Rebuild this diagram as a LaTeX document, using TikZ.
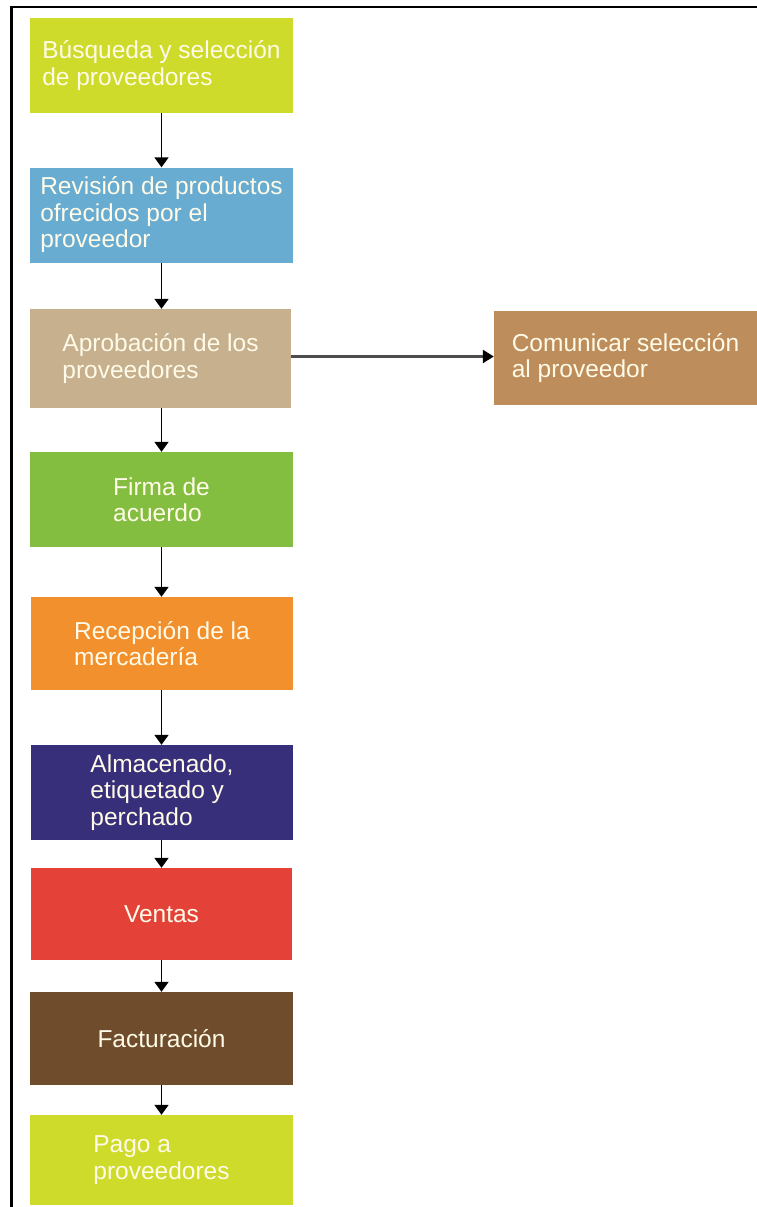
\documentclass[tikz,border=0pt]{standalone}
\usepackage{fontspec}
\setmainfont{Liberation Sans}
\usetikzlibrary{arrows.meta}

\definecolor{limeY}{RGB}{206,219,42}
\definecolor{skyB}{RGB}{104,172,210}
\definecolor{tanA}{RGB}{198,176,142}
\definecolor{tanB}{RGB}{190,141,92}
\definecolor{leafG}{RGB}{132,190,64}
\definecolor{orangeR}{RGB}{243,144,46}
\definecolor{indigoA}{RGB}{56,47,122}
\definecolor{redV}{RGB}{228,66,56}
\definecolor{brownF}{RGB}{111,76,44}
\definecolor{creamT}{RGB}{255,251,232}

\tikzset{
  stage/.style={rectangle, draw=none, minimum width=263pt, minimum height=95pt,
    inner sep=0pt, align=left, text=creamT,
    font=\fontsize{24.5pt}{26.5pt}\selectfont},
  flow/.style={draw=black, line width=1.8pt, -{Triangle[length=10pt,width=14pt]}},
  side/.style={draw=black!70, line width=2.4pt, -{Triangle[length=11pt,width=13pt,color=black]}}
}

\begin{document}
\begin{tikzpicture}[x=1pt,y=-1pt]
  \useasboundingbox (0,0) rectangle (757,1207);
  \fill[white] (0,0) rectangle (757,1207);

  % outer frame: top and left rules only
  \draw[line width=2.5pt] (11.5,1207) -- (11.5,7) -- (757,7);

  % main column of stages
  \node[stage, fill=limeY]   (b1) at (161.5,65.5)  {Búsqueda y selección\\de proveedores};
  \node[stage, fill=skyB]    (b2) at (161.5,215)   {Revisión de productos\\ofrecidos por el\\proveedor};
  \node[stage, fill=tanA, minimum width=261pt, minimum height=99pt]
                             (b3) at (160.5,358.5) {Aprobación de los\\proveedores};
  \node[stage, fill=leafG]   (b4) at (161.5,499.5) {Firma de\\acuerdo};
  \node[stage, fill=orangeR, minimum width=262pt, minimum height=93pt]
                             (b5) at (162,643.5)   {Recepción de la\\mercadería};
  \node[stage, fill=indigoA, minimum width=262pt]
                             (b6) at (162,792.5)   {Almacenado,\\etiquetado y\\perchado};
  \node[stage, fill=redV, minimum width=261pt, minimum height=92pt]
                             (b7) at (161.5,914)   {Ventas};
  \node[stage, fill=brownF, minimum height=93pt]
                             (b8) at (161.5,1038.5){Facturación};
  \node[stage, fill=limeY, minimum height=90pt]
                             (b9) at (161.5,1160)  {Pago a\\proveedores};

  % branch stage
  \node[stage, fill=tanB, minimum height=94pt]
                             (c1) at (625.5,358)   {Comunicar selección\\al proveedor};

  % connectors
  \draw[flow] (b1.south) -- (b2.north);
  \draw[flow] (b2.south) -- (b3.north -| b2.south);
  \draw[flow] (b3.south -| b2.south) -- (b4.north);
  \draw[flow] (b4.south) -- (b5.north -| b4.south);
  \draw[flow] (b5.south -| b4.south) -- (b6.north -| b4.south);
  \draw[flow] (b6.south -| b4.south) -- (b7.north -| b4.south);
  \draw[flow] (b7.south -| b4.south) -- (b8.north);
  \draw[flow] (b8.south) -- (b9.north);
  \draw[side] (b3.east) ++(0,-2) coordinate (s0) (s0) -- (s0 -| c1.west);
\end{tikzpicture}
\end{document}
